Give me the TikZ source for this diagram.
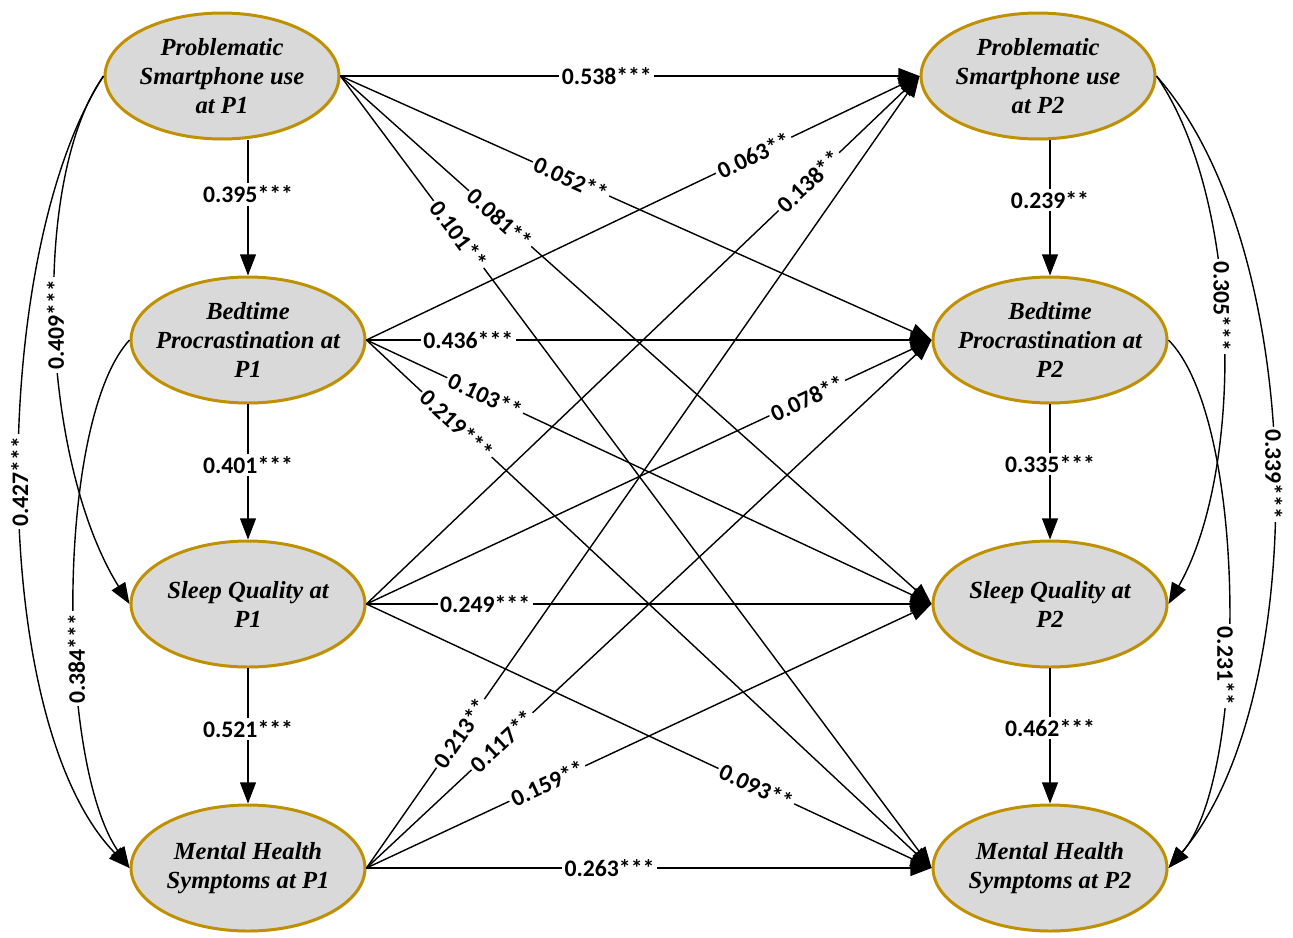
\documentclass[tikz,border=0pt]{standalone}
\usepackage{fontspec}
\setmainfont{Liberation Serif}
\newfontfamily\coeffont{Carlito}
\usetikzlibrary{arrows.meta,shapes.geometric,shadows}
\definecolor{gold}{HTML}{BF9000}
\definecolor{boxgray}{HTML}{D9D9D9}
\tikzset{
  latent/.style={ellipse, draw=gold, line width=1.7pt, fill=boxgray,
    minimum width=4.68cm, minimum height=2.52cm, inner xsep=-1cm, inner ysep=-0.4cm, align=center,
    font=\fontsize{14}{16.5}\selectfont\bfseries\itshape,
    drop shadow={shadow xshift=0.8pt, shadow yshift=-0.8pt, opacity=0.25}},
  effect/.style={->, line width=0.8pt},
  coef/.style={fill=white, inner sep=1.5pt, font=\coeffont\bfseries\fontsize{13.5}{15}\selectfont},
}
\begin{document}
\begin{tikzpicture}[x=0.02cm, y=-0.02cm, >={Triangle[length=12pt,width=9pt]}]
  \useasboundingbox (0,0) rectangle (1293,937);
  % wave 1
  \node[latent] (psu1) at (222,76) {Problematic\\Smartphone use\\at P1};
  \node[latent] (bp1) at (248,340) {Bedtime\\Procrastination at\\P1};
  \node[latent] (sq1) at (248,604) {Sleep Quality at\\P1};
  \node[latent] (mh1) at (248,868) {Mental Health\\Symptoms at P1};
  % wave 2
  \node[latent] (psu2) at (1038,76) {Problematic\\Smartphone use\\at P2};
  \node[latent] (bp2) at (1050,340) {Bedtime\\Procrastination at\\P2};
  \node[latent] (sq2) at (1050,604) {Sleep Quality at\\P2};
  \node[latent] (mh2) at (1050,868) {Mental Health\\Symptoms at P2};

  % within-wave paths
  \draw[effect] (psu1.south -| bp1.north) -- node[coef, pos=0.4] {0.395***} (bp1.north);
  \draw[effect] (bp1.south) -- node[coef, pos=0.45] {0.401***} (sq1.north);
  \draw[effect] (sq1.south) -- node[coef, pos=0.45] {0.521***} (mh1.north);
  \draw[effect] (psu2.south -| bp2.north) -- node[coef, pos=0.44] {0.239**} (bp2.north);
  \draw[effect] (bp2.south) -- node[coef, pos=0.44] {0.335***} (sq2.north);
  \draw[effect] (sq2.south) -- node[coef, pos=0.44] {0.462***} (mh2.north);

  % cross-lagged paths
  \draw[effect] (psu1.east) -- node[coef, pos=0.46] {0.538***} (psu2.west);
  \draw[effect] (psu1.east) -- node[coef, sloped, pos=0.39] {0.052**} (bp2.west);
  \draw[effect] (psu1.east) -- node[coef, sloped, pos=0.27] {0.081**} (sq2.west);
  \draw[effect] (psu1.east) -- node[coef, sloped, pos=0.20] {0.101**} (mh2.west);

  \draw[effect] (bp1.east) -- node[coef, sloped, pos=0.70] {0.063**} (psu2.west);
  \draw[effect] (bp1.east) -- node[coef, pos=0.18] {0.436***} (bp2.west);
  \draw[effect] (bp1.east) -- node[coef, sloped, pos=0.21] {0.103**} (sq2.west);
  \draw[effect] (bp1.east) -- node[coef, sloped, pos=0.16] {0.219***} (mh2.west);

  \draw[effect] (sq1.east) -- node[coef, sloped, pos=0.80] {0.138**} (psu2.west);
  \draw[effect] (sq1.east) -- node[coef, sloped, pos=0.78] {0.078**} (bp2.west);
  \draw[effect] (sq1.east) -- node[coef, pos=0.21] {0.249***} (sq2.west);
  \draw[effect] (sq1.east) -- node[coef, sloped, pos=0.69] {0.093**} (mh2.west);

  \draw[effect] (mh1.east) -- node[coef, sloped, pos=0.17] {0.213**} (psu2.west);
  \draw[effect] (mh1.east) -- node[coef, sloped, pos=0.24] {0.117**} (bp2.west);
  \draw[effect] (mh1.east) -- node[coef, sloped, pos=0.32] {0.159**} (sq2.west);
  \draw[effect] (mh1.east) -- node[coef, pos=0.43] {0.263***} (mh2.west);

  % curved paths, wave 1
  \draw[effect] (psu1.west) .. controls (30,180) and (40,460) .. node[coef, rotate=90] {0.409***} (sq1.west);
  \draw[effect] (psu1.west) .. controls (-10,250) and (-15,720) .. node[coef, rotate=90] {0.427***} (mh1.west);
  \draw[effect] (bp1.west) .. controls (56,420) and (56,760) .. node[coef, rotate=90, pos=0.6] {0.384***} (mh1.west);
  % curved paths, wave 2
  \draw[effect] (psu2.east) .. controls (1242,200) and (1245,470) .. node[coef, rotate=-90, pos=0.45] {0.305***} (sq2.east);
  \draw[effect] (psu2.east) .. controls (1310,250) and (1312,700) .. node[coef, rotate=-90] {0.339***} (mh2.east);
  \draw[effect] (bp2.east) .. controls (1248,420) and (1248,777) .. node[coef, rotate=-90, pos=0.6] {0.231**} (mh2.east);
\end{tikzpicture}
\end{document}
